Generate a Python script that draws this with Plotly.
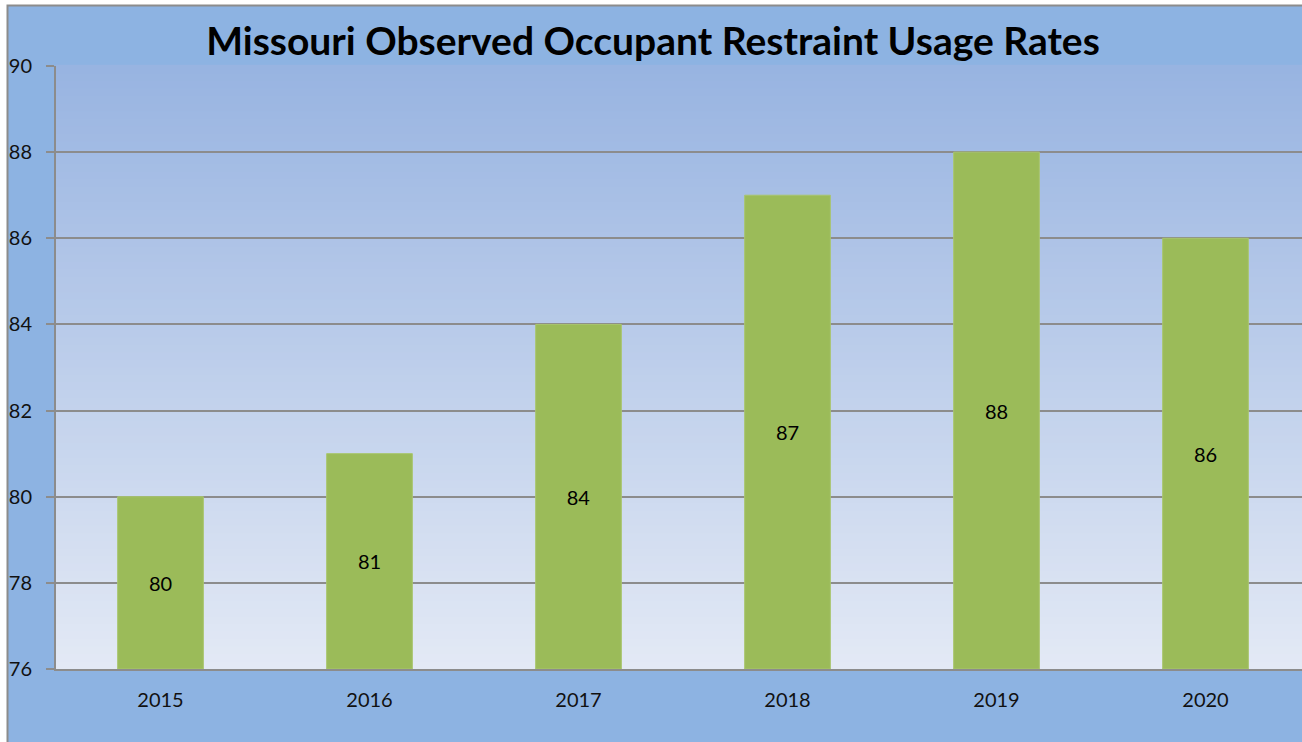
import plotly.graph_objects as go

years = ["2015", "2016", "2017", "2018", "2019", "2020"]
usage_rates = [80, 81, 84, 87, 88, 86]
y_ticks = [76, 78, 80, 82, 84, 86, 88, 90]

W, H = 1302, 742
ML, MR, MT, MB = 56, 0, 66, 742 - 669
pw = W - ML - MR
ph = H - MT - MB

def px_to_paper_x(px):
    return (px - ML) / pw

def px_to_paper_y(py):
    return (H - MB - py) / ph

def lerp(c1, c2, t):
    return tuple(round(a + (b - a) * t) for a, b in zip(c1, c2))

top_col = (152, 180, 225)
bot_col = (227, 233, 245)

shapes = [
    dict(type="rect", xref="paper", yref="paper", layer="below",
         x0=px_to_paper_x(7.5), x1=px_to_paper_x(W + 20),
         y0=px_to_paper_y(H + 20), y1=px_to_paper_y(5.5),
         fillcolor="#8DB3E2", line=dict(color="#8C8C8C", width=2)),
]
N = 80
for i in range(N):
    t = i / (N - 1)
    c = lerp(bot_col, top_col, t)
    shapes.append(dict(type="rect", xref="paper", yref="paper", layer="below",
                       x0=0, x1=1, y0=i / N, y1=(i + 1) / N + 0.002,
                       fillcolor="rgb(%d,%d,%d)" % c, line=dict(width=0)))

fig = go.Figure()
fig.add_trace(go.Bar(
    x=years, y=[v - 76 for v in usage_rates], base=76,
    width=0.41,
    marker=dict(color="#9BBB59", line=dict(color="#A9C66E", width=1)),
    text=[str(v) for v in usage_rates],
    textposition="inside", insidetextanchor="middle",
    textfont=dict(family="Lato, sans-serif", size=20, color="#000000"),
    cliponaxis=False,
    hoverinfo="skip",
))

fig.update_layout(
    width=W, height=H,
    margin=dict(l=ML, r=MR, t=MT, b=MB, pad=0),
    paper_bgcolor="white",
    plot_bgcolor="rgba(0,0,0,0)",
    shapes=shapes,
    showlegend=False,
    title=dict(text="<b>Missouri Observed Occupant Restraint Usage Rates</b>",
               x=px_to_paper_x(653), xref="paper", xanchor="center",
               y=1 - 41.5 / H, yref="container", yanchor="middle",
               font=dict(family="Lato, sans-serif", size=39, color="#000000")),
    font=dict(family="Lato, sans-serif", size=20, color="#1a1a1a"),
)
fig.update_xaxes(
    type="category", range=[-0.5, 5.5 - 8 / 209],
    showgrid=False, showline=True, linecolor="#8C8C8C", linewidth=2,
    ticks="", ticklabelstandoff=12,
    tickfont=dict(family="Lato, sans-serif", size=20, color="#111111"),
    fixedrange=True,
)
fig.update_yaxes(
    range=[76, 90], tickvals=y_ticks, ticktext=[str(v) for v in y_ticks],
    showgrid=True, gridcolor="#8C8C8C", gridwidth=2,
    showline=True, linecolor="#8C8C8C", linewidth=2,
    ticks="outside", ticklen=8, tickcolor="#8C8C8C", tickwidth=2,
    ticklabelstandoff=10,
    zeroline=False,
    tickfont=dict(family="Lato, sans-serif", size=20, color="#111111"),
    fixedrange=True,
)

fig.write_html(
    "out.html",
    config={"displayModeBar": False},
    post_script="document.body.style.margin='0';document.body.style.overflow='hidden';",
)
